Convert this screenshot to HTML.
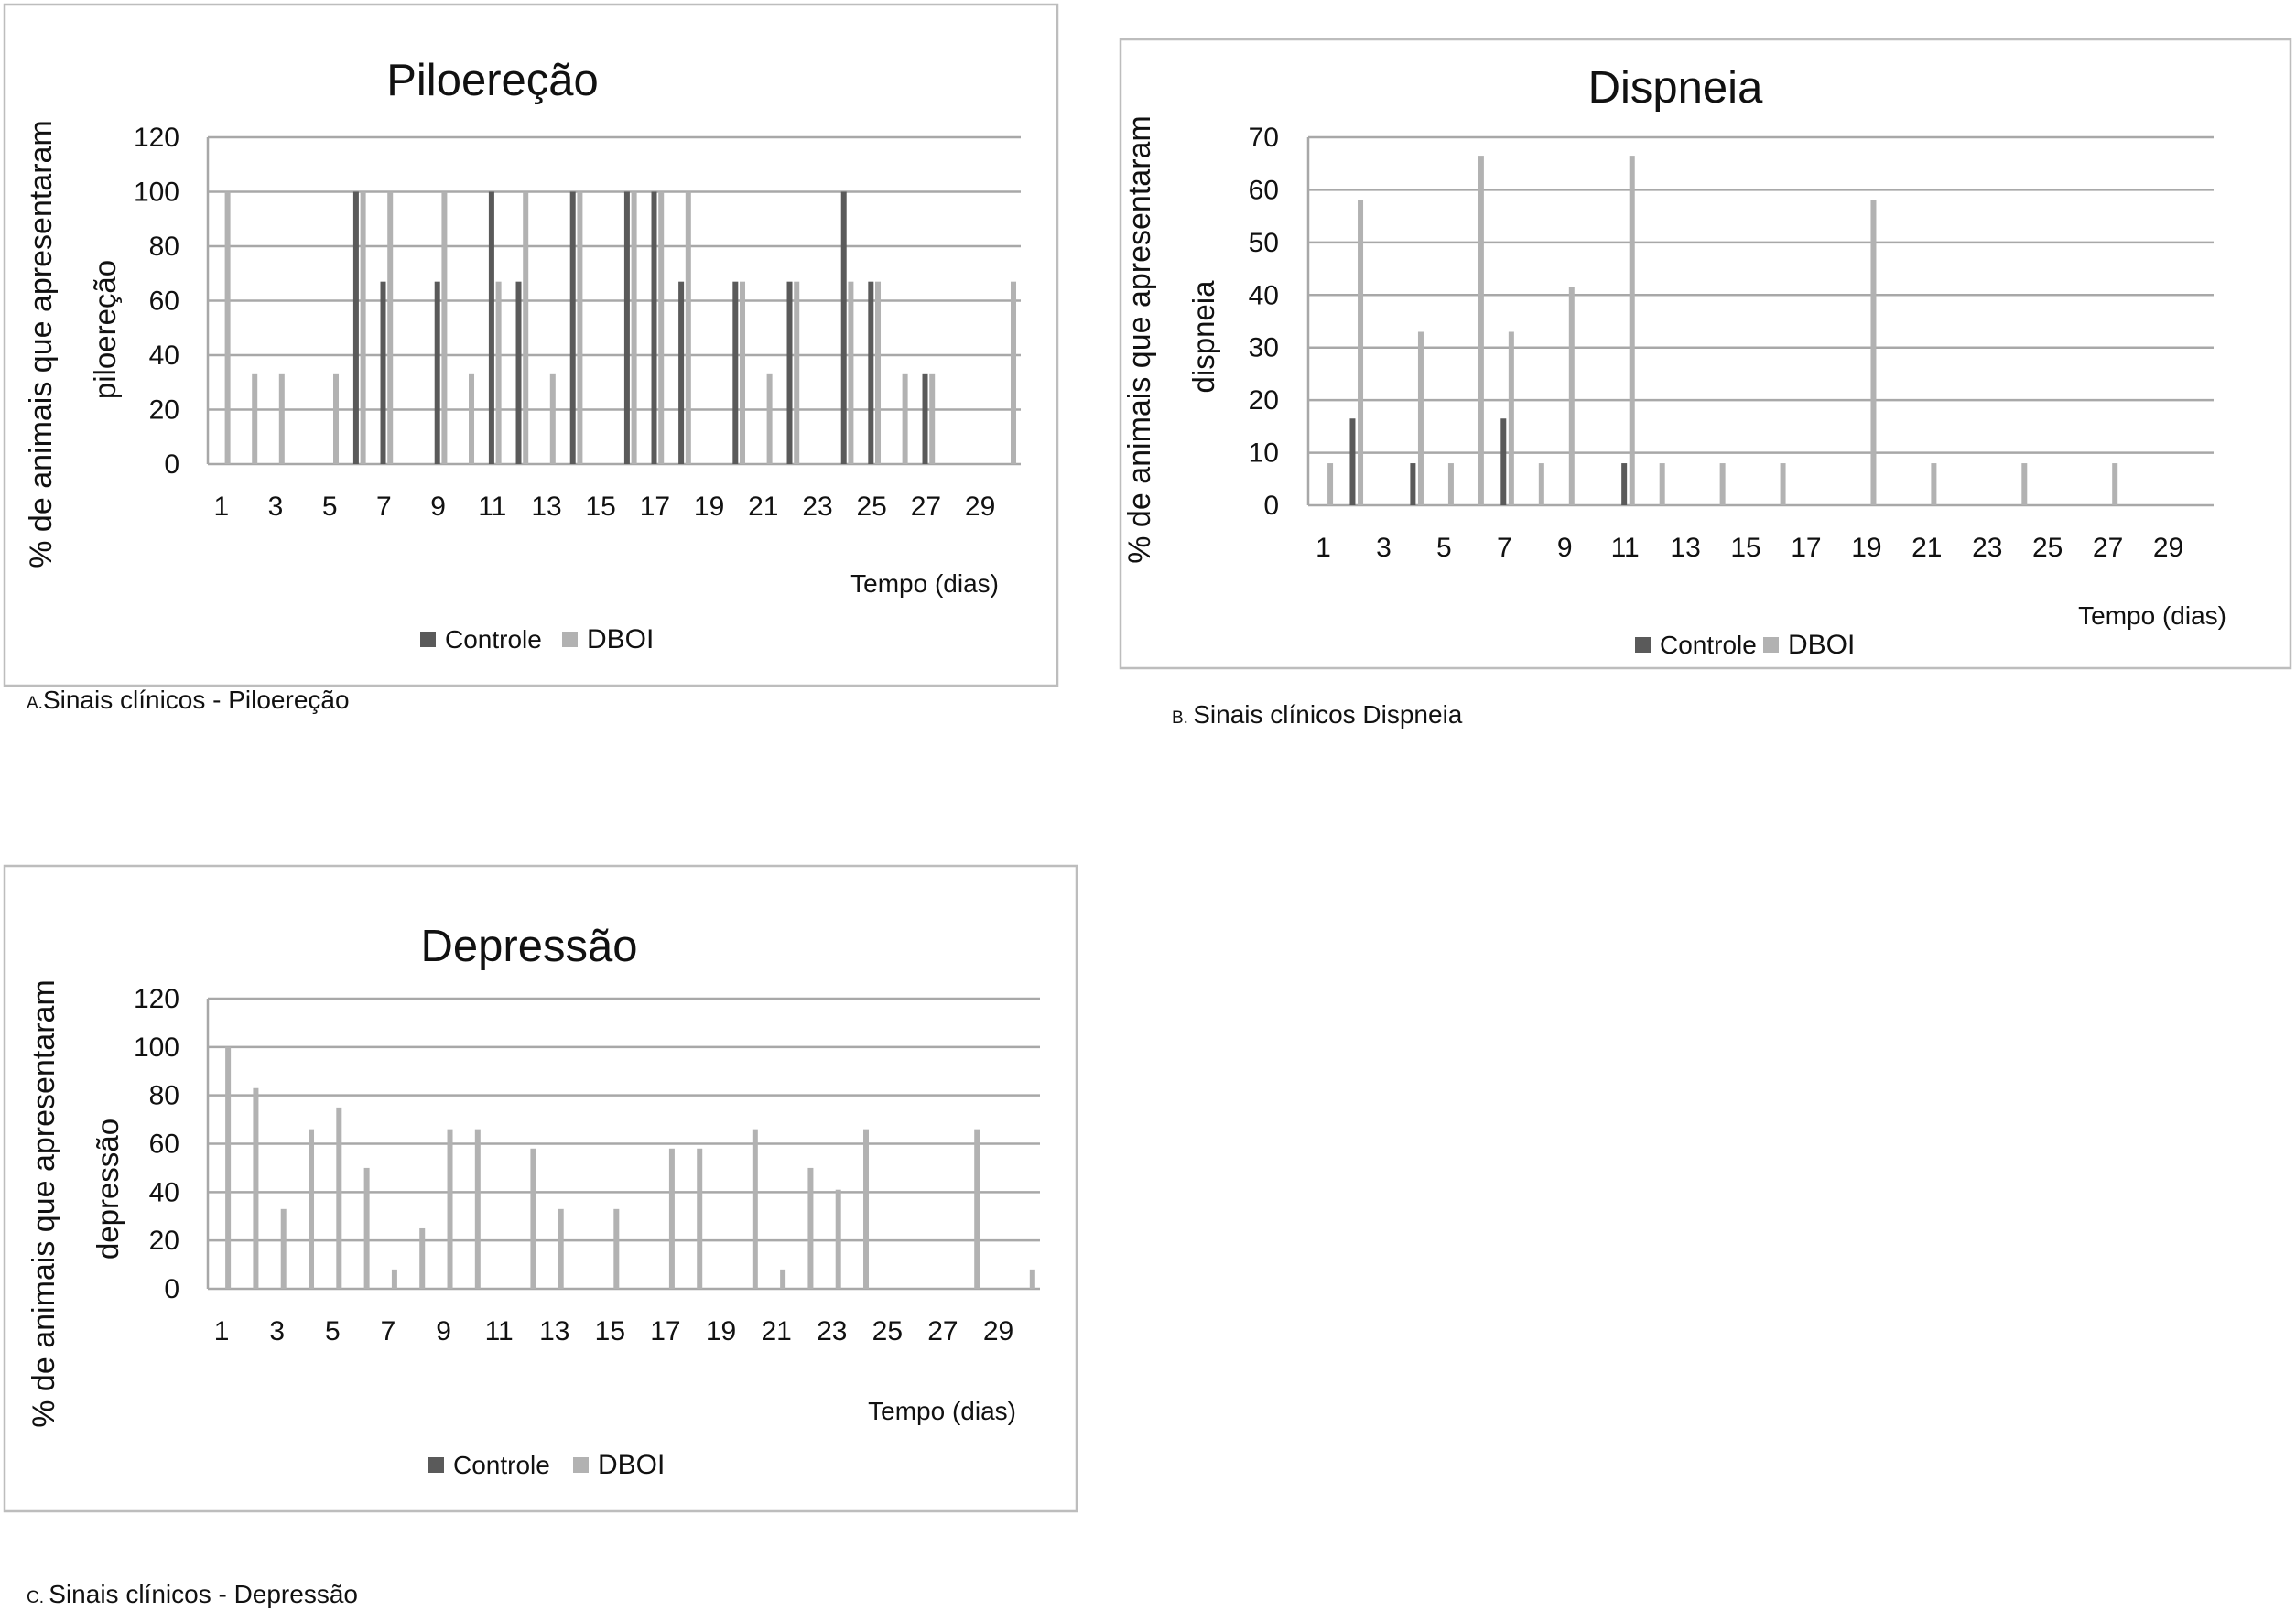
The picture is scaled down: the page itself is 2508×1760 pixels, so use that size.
<!DOCTYPE html>
<html><head><meta charset="utf-8"><style>
html,body{margin:0;padding:0;background:#fff;}
svg{display:block;font-family:"Liberation Sans",Arial,sans-serif;}
</style></head><body>
<svg id="s" width="2508" height="1760" viewBox="0 0 2508 1760" xmlns="http://www.w3.org/2000/svg">
<rect x="5" y="5" width="1150" height="744" fill="none" stroke="#bdbdbd" stroke-width="2.5"/>
<rect x="1224" y="43" width="1278" height="687" fill="none" stroke="#bdbdbd" stroke-width="2.5"/>
<rect x="5" y="946" width="1171" height="705" fill="none" stroke="#bdbdbd" stroke-width="2.5"/>
<text x="29" y="774" font-size="28" fill="#111"><tspan font-size="19">A.</tspan>Sinais clínicos - Piloereção</text>
<text x="1280" y="790" font-size="28" fill="#111"><tspan font-size="19">B. </tspan>Sinais clínicos Dispneia</text>
<text x="29" y="1751" font-size="28" fill="#111"><tspan font-size="19">C. </tspan>Sinais clínicos - Depressão</text>
</svg>
<script>
const days = Array.from({length:30},(_,i)=>i+1);
const xTickLabels = ["1","3","5","7","9","11","13","15","17","19","21","23","25","27","29"];
const ticksA = [0,20,40,60,80,100,120];
const ticksB = [0,10,20,30,40,50,60,70];
const ticksC = [0,20,40,60,80,100,120];
const controleA = [0,0,0,0,0,100,67,0,67,0,100,67,0,100,0,100,100,67,0,67,0,67,0,100,67,0,33,0,0,0];
const dboiA     = [100,33,33,0,33,100,100,0,100,33,67,100,33,100,0,100,100,100,0,67,33,67,0,67,67,33,33,0,0,67];
const controleB = [0,16.5,0,8,0,0,16.5,0,0,0,8,0,0,0,0,0,0,0,0,0,0,0,0,0,0,0,0,0,0,0];
const dboiB     = [8,58,0,33,8,66.5,33,8,41.5,0,66.5,8,0,8,0,8,0,0,58,0,8,0,0,8,0,0,8,0,0,0];
const controleC = [0,0,0,0,0,0,0,0,0,0,0,0,0,0,0,0,0,0,0,0,0,0,0,0,0,0,0,0,0,0];
const dboiC     = [100,83,33,66,75,50,8,25,66,66,0,58,33,0,33,0,58,58,0,66,8,50,41,66,0,0,0,66,0,8];

const NS="http://www.w3.org/2000/svg";
const svg=document.getElementById('s');
function mk(tag,attrs,parent){const e=document.createElementNS(NS,tag);for(const k in attrs)e.setAttribute(k,attrs[k]);(parent||svg).appendChild(e);return e;}

function chart(p){
  const g=mk('g',{});
  
  
  const max=p.ticks[p.ticks.length-1];
  const y=v=>p.bottom-(v/max)*(p.bottom-p.top);
  const cw=(p.right-p.left)/days.length;
  const cx=i=>p.left+cw*i;
  const t=mk('text',{x:p.titleX,y:p.titleY,'font-size':49,'text-anchor':'middle',fill:'#111'},g);
  t.textContent=p.title;
  
  
  p.ticks.forEach(v=>{
    const l=mk('line',{x1:p.left,x2:p.right,y1:y(v),y2:y(v),stroke:'#a8a8a8','stroke-width':2.5},g);
    
    
    const tx=mk('text',{x:p.yLabX,y:y(v)+10,'font-size':30,'text-anchor':'end',fill:'#111'},g);
    tx.textContent=v;
    
    
  });
  const ax=mk('line',{x1:p.left,x2:p.left,y1:p.top,y2:p.bottom,stroke:'#a8a8a8','stroke-width':2.5},g);
  
  
  xTickLabels.forEach(s=>{
    const i=Number(s)-1;
    const tx=mk('text',{x:cx(i)+cw/2,y:p.xLabY,'font-size':30,'text-anchor':'middle',fill:'#111'},g);
    tx.textContent=s;
    
    
  });
  p.ctrl.forEach((v,i)=>{ if(v<=0)return;
    const r=mk('rect',{x:cx(i)+cw*0.47-3,y:y(v),width:6,height:p.bottom-y(v),fill:'#5a5a5a'},g);
    
    
  });
  p.dboi.forEach((v,i)=>{ if(v<=0)return;
    const r=mk('rect',{x:cx(i)+cw*0.73-3,y:y(v),width:6,height:p.bottom-y(v),fill:'#b2b2b2'},g);
    
    
  });
  const y1=mk('text',{transform:`translate(${p.yt1X},${p.ytY}) rotate(-90)`,'font-size':34,'text-anchor':'middle',fill:'#111'},g);
  y1.textContent='% de animais que apresentaram';
  
  
  const y2=mk('text',{transform:`translate(${p.yt2X},${p.yt2Y}) rotate(-90)`,'font-size':33,'text-anchor':'middle',fill:'#111'},g);
  y2.textContent=p.yt2;
  
  
  const xt=mk('text',{x:p.xtX,y:p.xtY,'font-size':28,'text-anchor':'end',fill:'#111'},g);
  xt.textContent='Tempo (dias)';
  
  
  const s1=mk('rect',{x:p.lg1,y:p.lgY-18,width:17,height:17,fill:'#5a5a5a'},g);
  
  
  const l1=mk('text',{x:p.lg1+27,y:p.lgY,'font-size':28,fill:'#111'},g);
  l1.textContent='Controle';
  
  
  const s2=mk('rect',{x:p.lg2,y:p.lgY-18,width:17,height:17,fill:'#b2b2b2'},g);
  
  
  const l2=mk('text',{x:p.lg2+27,y:p.lgY,'font-size':30,fill:'#111'},g);
  l2.textContent='DBOI';
  
  
}
chart({id:'piloerecao',title:'Piloereção',titleX:538,titleY:104,left:227,right:1115,top:150,bottom:507,ticks:ticksA,yLabX:196,xLabY:563,ctrl:controleA,dboi:dboiA,yt1X:56,ytY:376,yt2X:126,yt2Y:360,yt2:'piloereção',xtX:1091,xtY:647,lg1:459,lg2:614,lgY:708});
chart({id:'dispneia',title:'Dispneia',titleX:1830,titleY:112,left:1429,right:2418,top:150,bottom:552,ticks:ticksB,yLabX:1397,xLabY:608,ctrl:controleB,dboi:dboiB,yt1X:1256,ytY:371,yt2X:1326,yt2Y:368,yt2:'dispneia',xtX:2432,xtY:682,lg1:1786,lg2:1926,lgY:714});
chart({id:'depressao',title:'Depressão',titleX:578,titleY:1050,left:227,right:1136,top:1091,bottom:1408,ticks:ticksC,yLabX:196,xLabY:1464,ctrl:controleC,dboi:dboiC,yt1X:59,ytY:1315,yt2X:129,yt2Y:1299,yt2:'depressão',xtX:1110,xtY:1551,lg1:468,lg2:626,lgY:1610});
</script>
</body></html>
